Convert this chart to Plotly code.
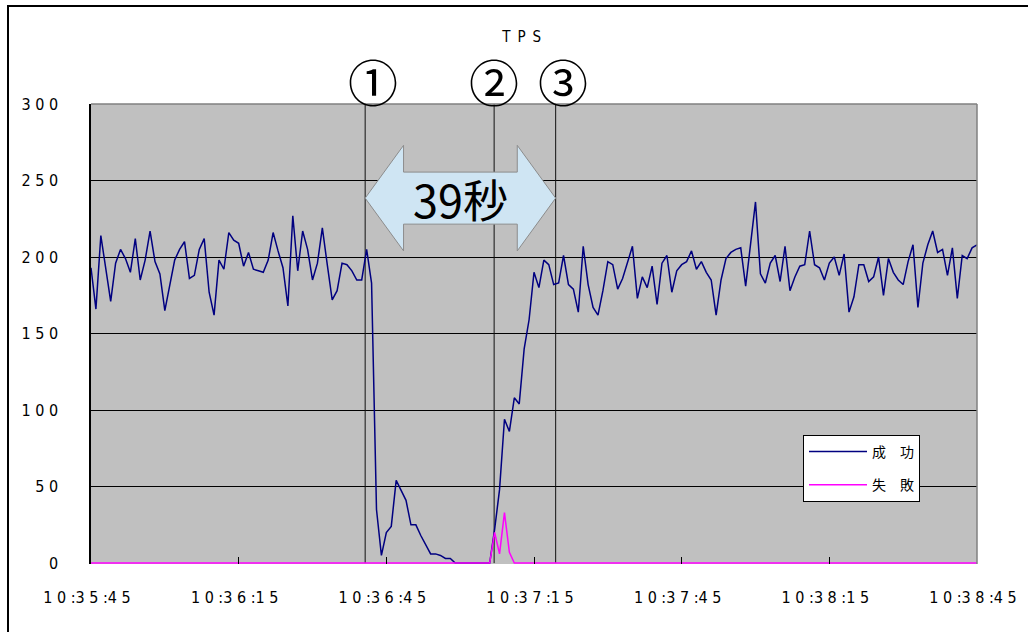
import plotly.graph_objects as go

# Time axis: one sample per second from 10:35:45 to 10:38:45
TICK_TIMES = ["10:35:45", "10:36:15", "10:36:45", "10:37:15", "10:37:45", "10:38:15", "10:38:45"]
TICK_SECONDS = [0, 30, 60, 90, 120, 150, 180]
Y_TICKS = [0, 50, 100, 150, 200, 250, 300]

# Successful transactions per second
SUCCESS = [
    193, 166, 214, 193, 171, 196, 205, 199, 190, 212, 185, 198, 217, 197, 189,
    165, 181, 198, 205, 210, 186, 188, 205, 212, 177, 162, 198, 192, 216, 211,
    209, 194, 203, 192, 191, 190, 198, 216, 204, 193, 168, 227, 191, 217, 205,
    185, 196, 219, 195, 172, 178, 196, 195, 191, 185, 185, 205, 183, 35, 5,
    20, 24, 54, 48, 41, 25, 25, 18, 12, 6, 6, 5, 3, 3, 0,
    0, 0, 0, 0, 0, 0, 0, 22, 48, 94, 86, 108, 104, 140, 159,
    190, 180, 198, 195, 182, 183, 201, 182, 179, 164, 207, 182, 167, 162, 178,
    197, 195, 179, 186, 196, 207, 173, 187, 180, 194, 169, 196, 201, 177, 191,
    195, 197, 204, 192, 197, 190, 185, 162, 185, 199, 203, 205, 206, 181, 208,
    236, 189, 183, 196, 201, 184, 207, 178, 187, 194, 195, 217, 195, 193, 185,
    196, 200, 188, 202, 164, 174, 195, 195, 184, 187, 200, 175, 199, 190, 185,
    182, 197, 208, 167, 196, 208, 217, 203, 205, 188, 206, 173, 201, 199, 206,
    208,
]

# Failed transactions per second
FAILURE = [
    0, 0, 0, 0, 0, 0, 0, 0, 0, 0, 0, 0, 0, 0, 0,
    0, 0, 0, 0, 0, 0, 0, 0, 0, 0, 0, 0, 0, 0, 0,
    0, 0, 0, 0, 0, 0, 0, 0, 0, 0, 0, 0, 0, 0, 0,
    0, 0, 0, 0, 0, 0, 0, 0, 0, 0, 0, 0, 0, 0, 0,
    0, 0, 0, 0, 0, 0, 0, 0, 0, 0, 0, 0, 0, 0, 0,
    0, 0, 0, 0, 0, 0, 0, 20, 6, 33, 7, 0, 0, 0, 0,
    0, 0, 0, 0, 0, 0, 0, 0, 0, 0, 0, 0, 0, 0, 0,
    0, 0, 0, 0, 0, 0, 0, 0, 0, 0, 0, 0, 0, 0, 0,
    0, 0, 0, 0, 0, 0, 0, 0, 0, 0, 0, 0, 0, 0, 0,
    0, 0, 0, 0, 0, 0, 0, 0, 0, 0, 0, 0, 0, 0, 0,
    0, 0, 0, 0, 0, 0, 0, 0, 0, 0, 0, 0, 0, 0, 0,
    0, 0, 0, 0, 0, 0, 0, 0, 0, 0, 0, 0, 0, 0, 0,
    0,
]

SERIES_NAMES = ["成\u3000功", "失\u3000敗"]
SERIES_COLORS = ["#000080", "#FF00FF"]

# Event markers (seconds after 10:35:45)
EVENT_SECONDS = [55.7, 81.9, 94.4]
EVENT_LABELS = ["①", "②", "③"]
GAP_LABEL = "39秒"

NARROW = "DejaVu Sans Condensed, Liberation Sans Narrow, Arial Narrow, sans-serif"
CJK = "Noto Sans CJK JP, Noto Sans CJK SC, sans-serif"

L_M, R_M, T_M, B_M = 91, 51, 104, 68
PLOT_W = 1028 - L_M - R_M
PLOT_H = 632 - T_M - B_M


def spaced(s):
    # digits separated by spaces, colon tied to the following digit
    return " ".join(s).replace(": ", ":")


seconds = list(range(len(SUCCESS)))

fig = go.Figure()
for name, color, vals in zip(SERIES_NAMES, SERIES_COLORS, [SUCCESS, FAILURE]):
    fig.add_trace(go.Scatter(
        x=seconds, y=vals, mode="lines", name=name, legendgroup=name,
        line=dict(color=color, width=1.5),
    ))

shapes = []
# outer frame
shapes.append(dict(type="rect", xref="paper", yref="paper",
                   x0=(8 - L_M) / PLOT_W, x1=1.2, y0=-0.3, y1=(PLOT_H + T_M - 6) / PLOT_H,
                   line=dict(color="black", width=2), fillcolor="rgba(0,0,0,0)", layer="below"))
# plot border (top and right)
shapes.append(dict(type="line", xref="paper", yref="paper", x0=0, x1=1, y0=1, y1=1,
                   line=dict(color="#808080", width=1.5)))
shapes.append(dict(type="line", xref="paper", yref="paper", x0=1, x1=1, y0=0, y1=1,
                   line=dict(color="#808080", width=1.5)))
# event lines
for sec in EVENT_SECONDS:
    shapes.append(dict(type="line", xref="x", yref="y", x0=sec, x1=sec, y0=0, y1=300,
                       line=dict(color="#111111", width=1), layer="between"))

# double-headed block arrow spanning events ① to ③
x_a, x_b = EVENT_SECONDS[0], EVENT_SECONDS[2]
yc, head_h, shaft_h, head_len = 238.5, 34.5, 17.0, 7.8
pts = [
    (x_a, yc), (x_a + head_len, yc + head_h), (x_a + head_len, yc + shaft_h),
    (x_b - head_len, yc + shaft_h), (x_b - head_len, yc + head_h), (x_b, yc),
    (x_b - head_len, yc - head_h), (x_b - head_len, yc - shaft_h),
    (x_a + head_len, yc - shaft_h), (x_a + head_len, yc - head_h),
]
path = "M " + " L ".join(f"{x},{y}" for x, y in pts) + " Z"
shapes.append(dict(type="path", xref="x", yref="y", path=path,
                   fillcolor="#CFE5F3", line=dict(color="#8C8C8C", width=1), layer="between"))

annotations = []
for sec, lab, dx in zip(EVENT_SECONDS, EVENT_LABELS, [8, 0, 7]):
    annotations.append(dict(x=sec, y=(PLOT_H + T_M - 80) / PLOT_H, xref="x", yref="paper",
                            text=lab, showarrow=False, xshift=dx, yanchor="middle",
                            font=dict(family=CJK, size=50, color="black")))
annotations.append(dict(x=(x_a + x_b) / 2, y=yc, xref="x", yref="y", text=GAP_LABEL,
                        showarrow=False, font=dict(family=CJK, size=45, color="black")))

fig.update_layout(
    width=1028, height=632,
    margin=dict(l=L_M, r=R_M, t=T_M, b=B_M),
    paper_bgcolor="white", plot_bgcolor="#C0C0C0",
    title=dict(text="T \u2009P \u2009S", x=(521.7 - L_M) / PLOT_W, xref="paper", xanchor="center",
               y=1 - 37 / 632, yref="container", yanchor="middle",
               font=dict(family=NARROW, size=15, color="black")),
    showlegend=True,
    legend=dict(x=(803 - L_M) / PLOT_W, y=(PLOT_H + T_M - 435) / PLOT_H,
                xanchor="left", yanchor="top",
                bgcolor="white", bordercolor="black", borderwidth=1,
                font=dict(family=CJK, size=14, color="black"),
                tracegroupgap=12, itemwidth=58),
    shapes=shapes, annotations=annotations,
)
fig.update_xaxes(range=[0, 180], tickvals=TICK_SECONDS, ticktext=[spaced(t) for t in TICK_TIMES],
                 ticks="inside", ticklen=7, tickcolor="black", showgrid=False, zeroline=False,
                 showline=False, ticklabelstandoff=22, ticklabeloverflow="allow",
                 ticklabelshift=-4,
                 tickfont=dict(family=NARROW, size=16, color="black"))
fig.update_yaxes(range=[-0.6, 300], tickvals=Y_TICKS, ticktext=[spaced(str(v)) for v in Y_TICKS],
                 ticks="inside", ticklen=8, tickcolor="black", showgrid=True, gridcolor="black",
                 gridwidth=1, zeroline=False, showline=True, linecolor="black", linewidth=1.5,
                 ticklabelstandoff=28, tickfont=dict(family=NARROW, size=16, color="black"))

fig.write_html("out.html")
